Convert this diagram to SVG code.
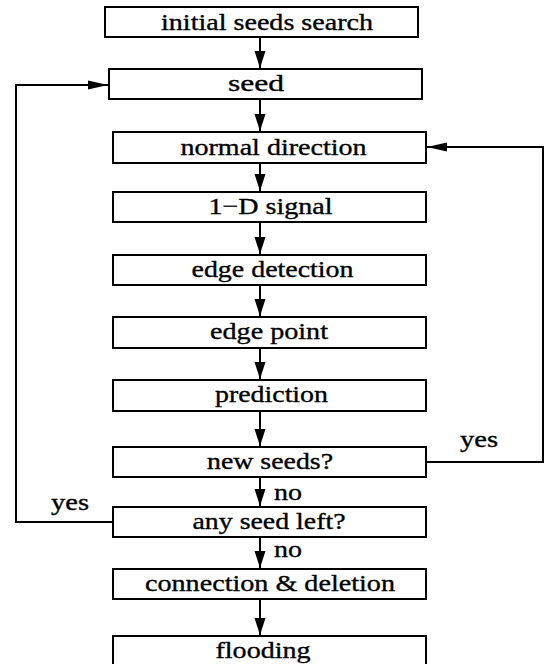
<svg xmlns="http://www.w3.org/2000/svg" width="545" height="664" viewBox="0 0 545 664">
<style>
.box{fill:#fff;stroke:#000;stroke-width:2}
.ln{fill:none;stroke:#000;stroke-width:2}
.t{font-family:'Liberation Serif','Times New Roman','DejaVu Serif',serif;font-size:24px;fill:#000;stroke:#000;stroke-width:0.35}
.c{text-anchor:middle}
</style>
<defs>
<marker id="av" markerUnits="userSpaceOnUse" markerWidth="18" markerHeight="11" refX="17" refY="5.5" orient="auto" overflow="visible">
<path d="M0,0 L17,5.5 L0,11 Z" fill="#000"/>
</marker>
<marker id="ah" markerUnits="userSpaceOnUse" markerWidth="21" markerHeight="9" refX="20" refY="4.5" orient="auto" overflow="visible">
<path d="M0,0 L20,4.5 L0,9 Z" fill="#000"/>
</marker>
</defs>
<rect width="545" height="664" fill="#fff"/>
<g id="connectors">
<line class="ln" x1="260" y1="37" x2="260" y2="68" marker-end="url(#av)"/>
<line class="ln" x1="260" y1="99" x2="260" y2="131" marker-end="url(#av)"/>
<line class="ln" x1="260" y1="163" x2="260" y2="191" marker-end="url(#av)"/>
<line class="ln" x1="260" y1="222" x2="260" y2="254" marker-end="url(#av)"/>
<line class="ln" x1="260" y1="285" x2="260" y2="316" marker-end="url(#av)"/>
<line class="ln" x1="260" y1="348" x2="260" y2="379" marker-end="url(#av)"/>
<line class="ln" x1="260" y1="411" x2="260" y2="446" marker-end="url(#av)"/>
<line class="ln" x1="260" y1="477" x2="260" y2="506" marker-end="url(#av)"/>
<line class="ln" x1="260" y1="537" x2="260" y2="568" marker-end="url(#av)"/>
<line class="ln" x1="260" y1="599" x2="260" y2="635" marker-end="url(#av)"/>
<polyline class="ln" points="113,522 16,522 16,85 108,85" marker-end="url(#ah)"/>
<polyline class="ln" points="426,462 543,462 543,147 427,147" marker-end="url(#ah)"/>
<text class="t c" x="479" y="447" textLength="38" lengthAdjust="spacingAndGlyphs">yes</text>
<text class="t c" x="70" y="510" textLength="38" lengthAdjust="spacingAndGlyphs">yes</text>
<text class="t" x="274" y="500" textLength="28" lengthAdjust="spacingAndGlyphs">no</text>
<text class="t" x="274" y="557" textLength="28" lengthAdjust="spacingAndGlyphs">no</text>
</g>
<g id="n1"><rect class="box" x="105" y="7" width="313" height="30"/><text class="t c" x="267" y="29.5" textLength="212" lengthAdjust="spacingAndGlyphs">initial seeds search</text></g>
<g id="n2"><rect class="box" x="109" y="69" width="313" height="30"/><text class="t c" x="256" y="91" textLength="56" lengthAdjust="spacingAndGlyphs">seed</text></g>
<g id="n3"><rect class="box" x="113" y="132" width="313" height="31"/><text class="t c" x="273.5" y="154.5" textLength="186" lengthAdjust="spacingAndGlyphs">normal direction</text></g>
<g id="n4"><rect class="box" x="113" y="192" width="313" height="30"/><text class="t c" x="270.5" y="214" textLength="124" lengthAdjust="spacingAndGlyphs">1−D signal</text></g>
<g id="n5"><rect class="box" x="113" y="255" width="313" height="30"/><text class="t c" x="272.5" y="276.5" textLength="162" lengthAdjust="spacingAndGlyphs">edge detection</text></g>
<g id="n6"><rect class="box" x="113" y="317" width="313" height="31"/><text class="t c" x="269" y="339" textLength="118" lengthAdjust="spacingAndGlyphs">edge point</text></g>
<g id="n7"><rect class="box" x="113" y="380" width="313" height="31"/><text class="t c" x="271.5" y="402" textLength="113" lengthAdjust="spacingAndGlyphs">prediction</text></g>
<g id="n8"><rect class="box" x="113" y="447" width="313" height="30"/><text class="t c" x="270" y="469" textLength="126" lengthAdjust="spacingAndGlyphs">new seeds?</text></g>
<g id="n9"><rect class="box" x="113" y="507" width="313" height="30"/><text class="t c" x="269" y="529" textLength="153" lengthAdjust="spacingAndGlyphs">any seed left?</text></g>
<g id="n10"><rect class="box" x="113" y="569" width="313" height="30"/><text class="t c" x="270" y="591" textLength="250" lengthAdjust="spacingAndGlyphs">connection &amp; deletion</text></g>
<g id="n11"><rect class="box" x="113" y="636" width="313" height="31"/><text class="t c" x="263" y="658" textLength="95" lengthAdjust="spacingAndGlyphs">flooding</text></g>
</svg>
